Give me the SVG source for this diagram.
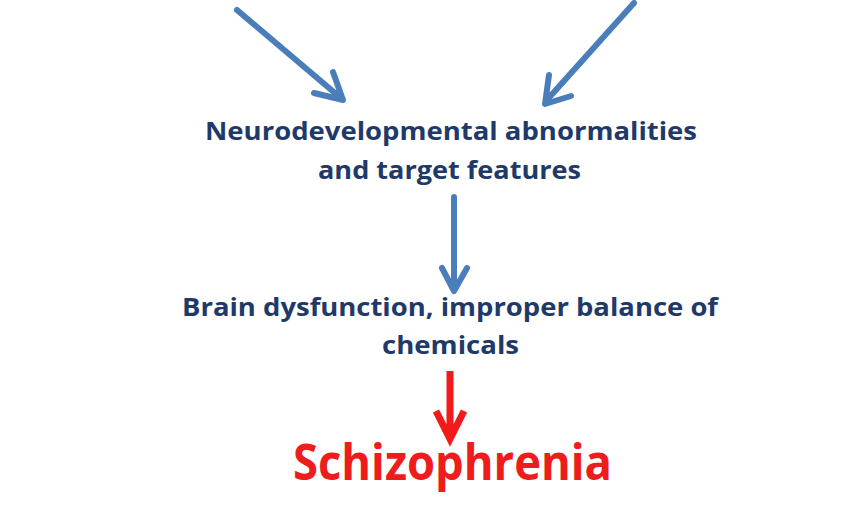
<svg xmlns="http://www.w3.org/2000/svg" width="860" height="512" viewBox="0 0 860 512">
<style>
.t{font-family:"Open Sans","Lato","Liberation Sans",sans-serif;font-weight:bold;fill:#1F3A68;text-anchor:start}
.big{font-family:"Open Sans","Lato","Liberation Sans",sans-serif;font-weight:bold;fill:#EE1C1C}
.ab{fill:none;stroke:#4A7EBB;stroke-width:6;stroke-linecap:round;stroke-linejoin:round}
.ar{fill:none;stroke:#F21A1A;stroke-width:7;stroke-linecap:butt;stroke-linejoin:miter}
</style>
<rect width="860" height="512" fill="#ffffff"/>
<g id="connectors">
<path class="ab" d="M237,10 L342,99 M314,93 L343,100 L333,72"/>
<path class="ab" d="M634,3 L546,101 M549,75 L545,104 L571,96"/>
<path class="ab" d="M454,197 L454,290 M442,268 L454,291 L467,268"/>
<path class="ar" d="M450,371 L450,436 M436,411 L450,439 L464,411"/>
</g>
<g id="node-neuro">
<text class="t" x="205" y="140" font-size="24.5" textLength="492" lengthAdjust="spacingAndGlyphs">Neurodevelopmental abnormalities</text>
<text class="t" x="318" y="179" font-size="24.5" textLength="263" lengthAdjust="spacingAndGlyphs">and target features</text>
</g>
<g id="node-brain">
<text class="t" x="182" y="316" font-size="24.5" textLength="536" lengthAdjust="spacingAndGlyphs">Brain dysfunction, improper balance of</text>
<text class="t" x="382" y="354" font-size="24.5" textLength="137" lengthAdjust="spacingAndGlyphs">chemicals</text>
</g>
<g id="node-schizo">
<text class="big" x="293" y="480" font-size="50" textLength="319" lengthAdjust="spacingAndGlyphs">Schizophrenia</text>
</g>
</svg>
